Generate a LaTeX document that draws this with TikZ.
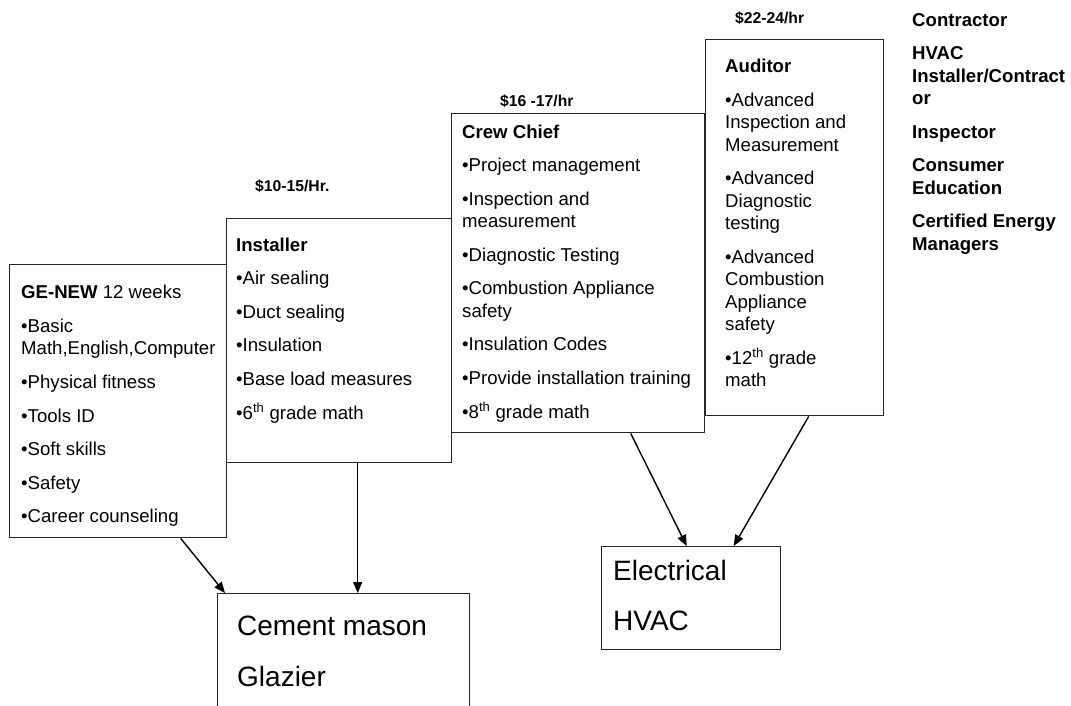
\documentclass[tikz,border=0pt]{standalone}
\usepackage{fontspec}
\setmainfont{Liberation Sans}
\usetikzlibrary{arrows.meta}
\tikzset{
  box/.style={draw=black!85, line width=1.4pt, inner sep=0pt, anchor=north west},
  body/.style={anchor=north west, inner sep=0pt, align=left, font=\fontsize{18.6}{22.4}\selectfont},
  price/.style={anchor=base west, inner sep=0pt, font=\bfseries\fontsize{15.7}{19}\selectfont},
  big/.style={anchor=base west, inner sep=0pt, font=\fontsize{28}{33.6}\selectfont},
  conn/.style={line width=1.4pt, -{Triangle[length=11pt,width=9pt]}}
}
\begin{document}
\begin{tikzpicture}[x=1pt,y=-1pt]
\clip (0,0) rectangle (1071,705);
\fill[white] (0,0) rectangle (1071,705);
% boxes
\node[box, minimum width=217pt, minimum height=273pt] (ge) at (9,264) {};
\node[box, minimum width=225pt, minimum height=244pt] (inst) at (226,218) {};
\node[box, minimum width=253pt, minimum height=319pt] (crew) at (451,113) {};
\node[box, minimum width=178pt, minimum height=376pt] (aud) at (705,39) {};
\node[box, minimum width=252pt, minimum height=140pt] (cem) at (217,593) {};
\node[box, minimum width=179pt, minimum height=103pt] (elec) at (601,546) {};
% box texts
\node[body] (getxt) at (21,283) {\strut\textbf{GE-NEW} 12 weeks\\[11.2pt]
•Basic\\Math,English,Computer\\[11.2pt]
•Physical fitness\\[11.2pt]
•Tools ID\\[11.2pt]
•Soft skills\\[11.2pt]
•Safety\\[11.2pt]
•Career counseling};
\node[body] (insttxt) at (236,235.3) {\strut\textbf{Installer}\\[11.2pt]
•Air sealing\\[11.2pt]
•Duct sealing\\[11.2pt]
•Insulation\\[11.2pt]
•Base load measures\\[11.2pt]
•6\textsuperscript{th} grade math};
\node[body] (crewtxt) at (462,122.3) {\strut\textbf{Crew Chief}\\[11.2pt]
•Project management\\[11.2pt]
•Inspection and\\measurement\\[11.2pt]
•Diagnostic Testing\\[11.2pt]
•Combustion Appliance\\safety\\[11.2pt]
•Insulation Codes\\[11.2pt]
•Provide installation training\\[11.2pt]
•8\textsuperscript{th} grade math};
\node[body] (audtxt) at (725,57) {\strut\textbf{Auditor}\\[11.2pt]
•Advanced\\Inspection and\\Measurement\\[11.2pt]
•Advanced\\Diagnostic\\testing\\[11.2pt]
•Advanced\\Combustion\\Appliance\\safety\\[11.2pt]
•12\textsuperscript{th} grade\\math};
\node[body, font=\bfseries\fontsize{18.6}{22.4}\selectfont] (jobs) at (912,10.3) {\strut Contractor\\[11.2pt]
HVAC\\Installer/Contract\\or\\[11.2pt]
Inspector\\[11.2pt]
Consumer\\Education\\[11.2pt]
Certified Energy\\Managers};
% prices
\node[price] (p1) at (255,191.3) {\$10-15/Hr.};
\node[price] (p2) at (500,106) {\$16 -17/hr};
\node[price] (p3) at (735,23.3) {\$22-24/hr};
% bottom box texts
\node[big] (cem1) at (237,635.5) {Cement mason};
\node[big] (cem2) at (237,686.5) {Glazier};
\node[big] (el1) at (613,580) {Electrical};
\node[big] (el2) at (613,630.7) {HVAC};
% connectors
\draw[conn] ([xshift=62.5pt]ge.south) -- ([xshift=8pt]cem.north west);
\draw[conn] ([xshift=18.5pt]inst.south) -- ([xshift=14pt]cem.north);
\draw[conn] ([xshift=52.5pt]crew.south) -- ([xshift=-4.5pt]elec.north);
\draw[conn] ([xshift=14pt]aud.south) -- ([xshift=42.5pt]elec.north);
\end{tikzpicture}
\end{document}
